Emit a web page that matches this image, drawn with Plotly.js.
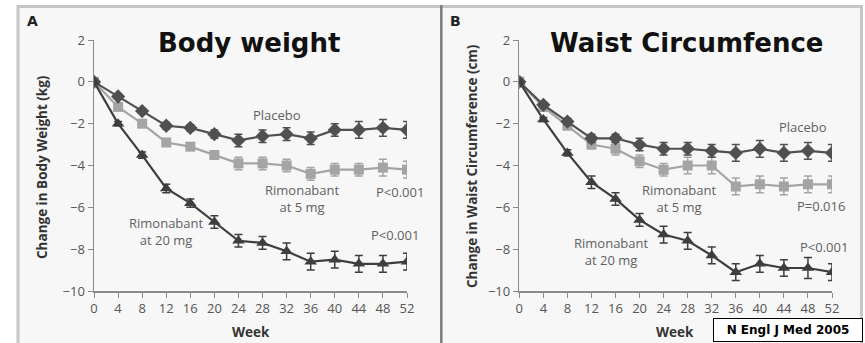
<!DOCTYPE html>
<html>
<head>
<meta charset="utf-8">
<script src="https://cdn.plot.ly/plotly-3.0.1.min.js"></script>
<style>
  html, body { margin: 0; padding: 0; background: #ffffff; }
  #chart { width: 865px; height: 343px; }
</style>
</head>
<body>
<div id="chart"></div>
<script>
// Weeks of follow-up
const weeks = [0, 4, 8, 12, 16, 20, 24, 28, 32, 36, 40, 44, 48, 52];

// Panel A: change in body weight (kg)
const weightPlacebo = [0, -0.7, -1.4, -2.1, -2.2, -2.5, -2.8, -2.6, -2.5, -2.7, -2.3, -2.3, -2.2, -2.3];
const weightDose5   = [0, -1.2, -2.0, -2.9, -3.1, -3.5, -3.9, -3.9, -4.0, -4.4, -4.2, -4.2, -4.1, -4.2];
const weightDose20  = [0, -2.0, -3.5, -5.1, -5.8, -6.7, -7.6, -7.7, -8.1, -8.6, -8.5, -8.7, -8.7, -8.6];
const weightPlaceboErr = [0, 0.1, 0.1, 0.15, 0.15, 0.2, 0.3, 0.3, 0.3, 0.3, 0.3, 0.4, 0.4, 0.4];
const weightDose5Err   = [0, 0.1, 0.15, 0.15, 0.15, 0.2, 0.3, 0.3, 0.3, 0.3, 0.3, 0.3, 0.4, 0.4];
const weightDose20Err  = [0, 0.1, 0.15, 0.2, 0.2, 0.3, 0.3, 0.3, 0.4, 0.4, 0.4, 0.4, 0.4, 0.4];

// Panel B: change in waist circumference (cm)
const waistPlacebo = [0, -1.1, -1.9, -2.7, -2.7, -3.0, -3.2, -3.2, -3.3, -3.4, -3.2, -3.4, -3.3, -3.4];
const waistDose5   = [0, -1.2, -2.1, -3.0, -3.2, -3.8, -4.2, -4.0, -4.0, -5.0, -4.9, -5.0, -4.9, -4.9];
const waistDose20  = [0, -1.8, -3.4, -4.8, -5.6, -6.6, -7.3, -7.6, -8.3, -9.1, -8.7, -8.9, -8.9, -9.1];
const waistPlaceboErr = [0, 0.1, 0.15, 0.2, 0.2, 0.3, 0.3, 0.3, 0.3, 0.4, 0.4, 0.4, 0.4, 0.4];
const waistDose5Err   = [0, 0.1, 0.15, 0.2, 0.3, 0.3, 0.3, 0.4, 0.4, 0.4, 0.4, 0.4, 0.4, 0.4];
const waistDose20Err  = [0, 0.1, 0.15, 0.3, 0.3, 0.3, 0.4, 0.4, 0.4, 0.4, 0.4, 0.4, 0.5, 0.4];

const yTicks = [2, 0, -2, -4, -6, -8, -10];

const W = 865, H = 343;
const px = v => v / W;          // pixel -> paper x
const py = v => 1 - v / H;      // pixel -> paper y

const colPlacebo = '#505050';
const colDose5 = '#a4a4a4';
const colDose20 = '#3e3e3e';
const tickFont = { family: 'Open Sans, Arial, sans-serif', size: 13, color: '#555555' };
const noteFont = { family: 'Open Sans, Arial, sans-serif', size: 13, color: '#616161' };
const headFont = { family: 'DejaVu Sans, sans-serif', size: 26, color: '#111111', weight: 'bold' };

function series(y, err, color, symbol, size, xa, ya) {
  return {
    x: weeks, y: y, xaxis: xa, yaxis: ya, type: 'scatter', mode: 'lines+markers',
    line: { color: color, width: 2.2 },
    marker: { symbol: symbol, size: size, color: color },
    error_y: { type: 'data', array: err, visible: true, color: color, thickness: 1.5, width: 4 },
    hoverinfo: 'x+y', showlegend: false
  };
}

const data = [
  series(weightDose5, weightDose5Err, colDose5, 'square', 10, 'x', 'y'),
  series(weightPlacebo, weightPlaceboErr, colPlacebo, 'diamond', 11, 'x', 'y'),
  series(weightDose20, weightDose20Err, colDose20, 'triangle-up', 11, 'x', 'y'),
  series(waistDose5, waistDose5Err, colDose5, 'square', 10, 'x2', 'y2'),
  series(waistPlacebo, waistPlaceboErr, colPlacebo, 'diamond', 11, 'x2', 'y2'),
  series(waistDose20, waistDose20Err, colDose20, 'triangle-up', 11, 'x2', 'y2')
];

function xAxis(domain, anchor) {
  return {
    domain: domain, anchor: anchor, range: [0, 52], tickvals: weeks, ticks: 'outside',
    ticklen: 5, tickcolor: '#8a8a8a', showline: true, linecolor: '#8a8a8a', linewidth: 1.5,
    showgrid: false, zeroline: false, tickfont: tickFont, fixedrange: true
  };
}
function yAxis(domain, anchor) {
  return {
    domain: domain, anchor: anchor, range: [-10, 2], tickvals: yTicks, ticks: 'outside',
    ticklen: 5, tickcolor: '#8a8a8a', showline: true, linecolor: '#8a8a8a', linewidth: 1.5,
    showgrid: false, zeroline: false, tickfont: tickFont, fixedrange: true
  };
}

const yDom = [py(291), py(40)];

function note(text, x, y, ref, extra) {
  return Object.assign({ text: text, x: x, y: y, xref: ref[0], yref: ref[1], showarrow: false,
    font: noteFont, align: 'center' }, extra || {});
}
function paperText(text, x, y, font, extra) {
  return Object.assign({ text: text, x: px(x), y: py(y), xref: 'paper', yref: 'paper',
    showarrow: false, font: font, xanchor: 'center', yanchor: 'middle' }, extra || {});
}

const labelFont = { family: 'Open Sans, Arial, sans-serif', size: 13.5, color: '#333333', weight: 'bold' };

const annotations = [
  // Panel A labels
  note('Placebo', 30.4, -1.58, ['x', 'y']),
  note('Rimonabant<br>at 5 mg', 34.6, -5.6, ['x', 'y']),
  note('P<0.001', 50.8, -5.27, ['x', 'y']),
  note('Rimonabant<br>at 20 mg', 12.0, -7.15, ['x', 'y']),
  note('P<0.001', 50.0, -7.32, ['x', 'y']),
  // Panel B labels
  note('Placebo', 47.1, -2.17, ['x2', 'y2']),
  note('Rimonabant<br>at 5 mg', 26.6, -5.6, ['x2', 'y2']),
  note('P=0.016', 50.2, -5.92, ['x2', 'y2']),
  note('Rimonabant<br>at 20 mg', 15.4, -8.1, ['x2', 'y2']),
  note('P<0.001', 50.6, -7.88, ['x2', 'y2']),
  // Headings and panel letters
  paperText('Body weight', 249, 43, headFont),
  paperText('Waist Circumfence', 687, 43, headFont),
  paperText('A', 32, 21, { family: 'DejaVu Sans, sans-serif', size: 14, color: '#222222', weight: 'bold' }),
  paperText('B', 455, 21, { family: 'DejaVu Sans, sans-serif', size: 14, color: '#222222', weight: 'bold' }),
  // Axis titles
  paperText('Change in Body Weight (kg)', 42, 167, labelFont, { textangle: -90 }),
  paperText('Change in Waist Circumference (cm)', 472, 166, labelFont, { textangle: -90 }),
  paperText('Week', 251, 332, labelFont),
  paperText('Week', 675, 332, labelFont),
  // Source box
  paperText('N Engl J Med 2005', 787.5, 330,
    { family: 'DejaVu Sans, sans-serif', size: 12, color: '#000000', weight: 'bold' },
    { bgcolor: '#ffffff', bordercolor: '#000000', borderwidth: 1, borderpad: 2, width: 144, height: 18 })
];

const shapes = [
  // panel background
  { type: 'rect', xref: 'paper', yref: 'paper', layer: 'below',
    x0: px(19), x1: px(860), y0: py(343), y1: py(8), fillcolor: '#f7f7f7', line: { width: 0 } },
  // outer frame
  { type: 'line', xref: 'paper', yref: 'paper', x0: px(18), x1: px(18), y0: py(343), y1: py(5),
    line: { color: '#c6c6c6', width: 3 } },
  { type: 'line', xref: 'paper', yref: 'paper', x0: px(17), x1: px(863), y0: py(6.5), y1: py(6.5),
    line: { color: '#c6c6c6', width: 3 } },
  { type: 'line', xref: 'paper', yref: 'paper', x0: px(861.5), x1: px(861.5), y0: py(343), y1: py(5),
    line: { color: '#c6c6c6', width: 3 } },
  // divider between panels
  { type: 'line', xref: 'paper', yref: 'paper', x0: px(441.3), x1: px(441.3), y0: py(343), y1: py(5),
    line: { color: '#7c7c7c', width: 2.5 } }
];

const layout = {
  width: W, height: H,
  margin: { l: 0, r: 0, t: 0, b: 0 },
  paper_bgcolor: '#ffffff', plot_bgcolor: 'rgba(0,0,0,0)',
  xaxis: xAxis([px(94), px(407)], 'y'),
  yaxis: yAxis(yDom, 'x'),
  xaxis2: xAxis([px(519.3), px(832)], 'y2'),
  yaxis2: yAxis(yDom, 'x2'),
  annotations: annotations,
  shapes: shapes,
  showlegend: false
};

Plotly.newPlot('chart', data, layout, { displayModeBar: false, staticPlot: true });
</script>
</body>
</html>
